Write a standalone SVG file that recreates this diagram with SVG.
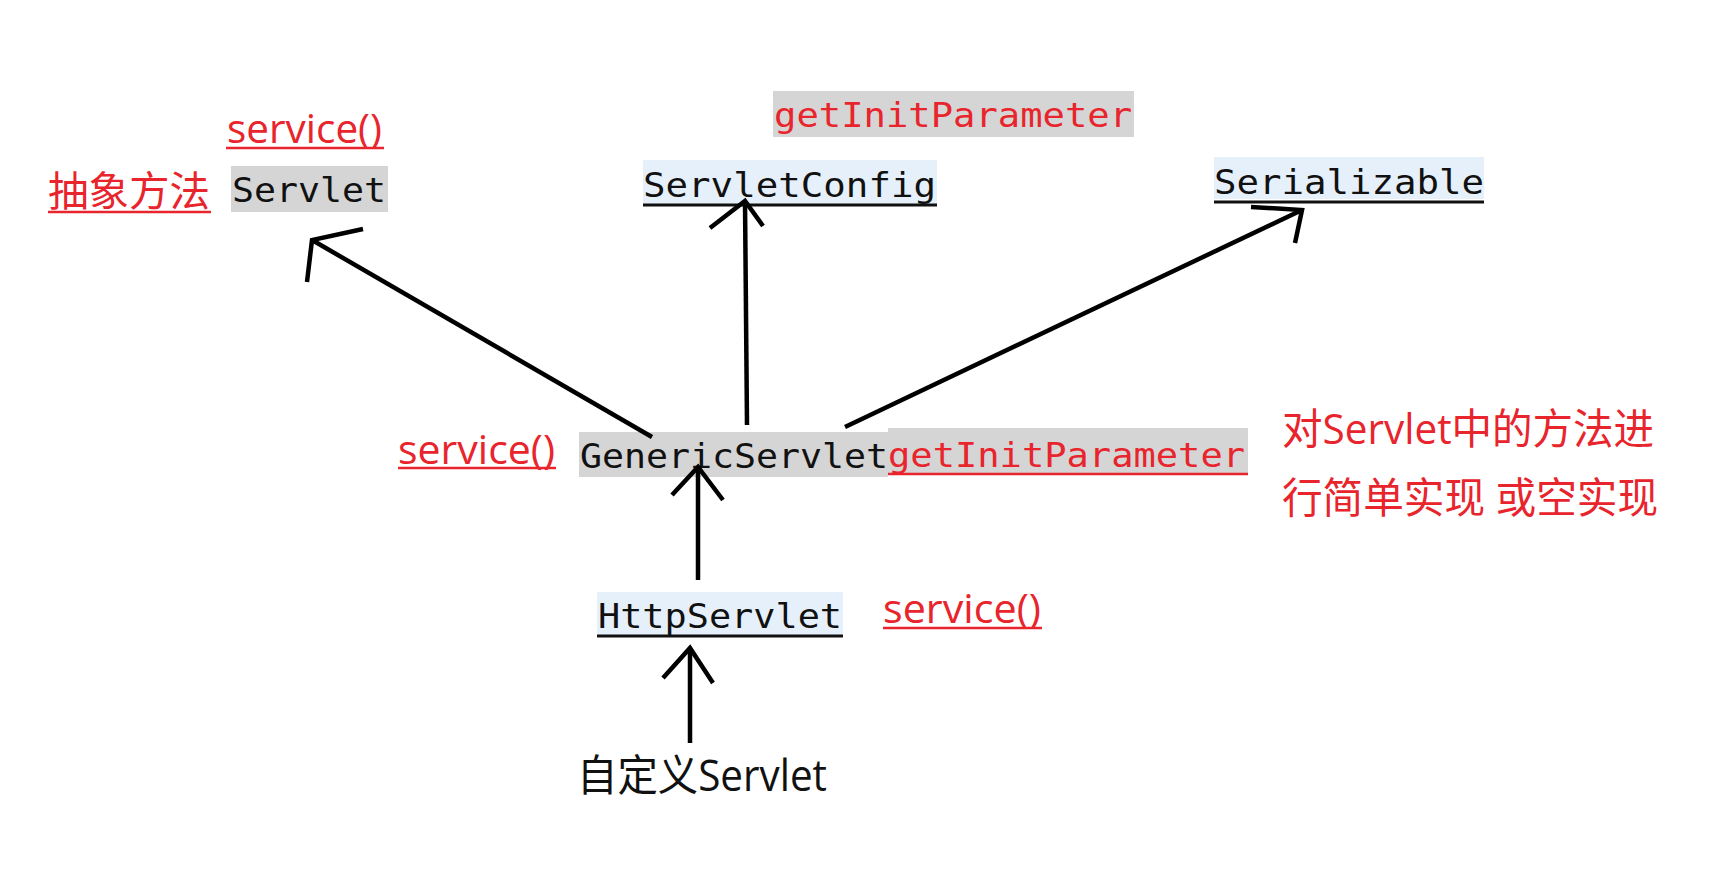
<svg xmlns="http://www.w3.org/2000/svg" width="1721" height="869" viewBox="0 0 1721 869">
<style>
.mono{font-family:"DejaVu Sans Mono","Liberation Mono",monospace;font-size:34px;fill:#111}
.sans{font-family:"Open Sans","Noto Sans CJK SC",sans-serif;font-size:40px}
.red{fill:#e8242c}
.blk{fill:#111}
.gray{fill:#d5d5d5}
.blue{fill:#e6f0fb}
.ulr{stroke:#e8242c;stroke-width:2.5}
.ulb{stroke:#111;stroke-width:3}
.conn{fill:none;stroke:#000;stroke-width:4.5;stroke-linejoin:miter}
</style>
<rect width="1721" height="869" fill="#fff"/>

<g id="servlet-service">
<text class="sans red" x="227" y="143" textLength="155" lengthAdjust="spacingAndGlyphs">service()</text>
<line class="ulr" x1="226" y1="148" x2="384" y2="148"/>
</g>
<g id="abstract-label">
<text class="sans red" x="48" y="206" textLength="162" lengthAdjust="spacingAndGlyphs" style="font-size:41px">抽象方法</text>
<line class="ulr" x1="48" y1="212" x2="211" y2="212"/>
</g>
<g id="servlet">
<rect class="gray" x="231" y="166" width="157" height="46"/>
<text class="mono" x="232" y="202" textLength="154" lengthAdjust="spacingAndGlyphs">Servlet</text>
</g>

<g id="config-getinit">
<rect class="gray" x="773" y="91" width="361" height="46"/>
<text class="mono red" x="774" y="127" textLength="358" lengthAdjust="spacingAndGlyphs">getInitParameter</text>
</g>
<g id="servletconfig">
<rect class="blue" x="643" y="160" width="294" height="45"/>
<text class="mono" x="643" y="197" textLength="293" lengthAdjust="spacingAndGlyphs">ServletConfig</text>
<line class="ulb" x1="643" y1="205" x2="937" y2="205"/>
</g>

<g id="serializable">
<rect class="blue" x="1214" y="157" width="270" height="42"/>
<text class="mono" x="1214" y="194" textLength="270" lengthAdjust="spacingAndGlyphs">Serializable</text>
<line class="ulb" x1="1214" y1="202" x2="1484" y2="202"/>
</g>

<g id="generic-service">
<text class="sans red" x="398" y="464" textLength="157" lengthAdjust="spacingAndGlyphs">service()</text>
<line class="ulr" x1="398" y1="468" x2="556" y2="468"/>
</g>
<g id="genericservlet">
<rect class="gray" x="579" y="432" width="309" height="45"/>
<text class="mono" x="580" y="468" textLength="308" lengthAdjust="spacingAndGlyphs">GenericServlet</text>
</g>
<g id="generic-getinit">
<rect class="gray" x="888" y="428" width="360" height="47"/>
<text class="mono red" x="888" y="467" textLength="357" lengthAdjust="spacingAndGlyphs">getInitParameter</text>
<line class="ulr" x1="888" y1="474" x2="1248" y2="474"/>
</g>
<g id="generic-note">
<text class="sans red" x="1282" y="444" textLength="372" lengthAdjust="spacingAndGlyphs" style="font-size:42px">对Servlet中的方法进</text>
<text class="sans red" x="1282" y="513" textLength="376" lengthAdjust="spacingAndGlyphs" style="font-size:42px">行简单实现 或空实现</text>
</g>

<g id="httpservlet">
<rect class="blue" x="597" y="592" width="246" height="44"/>
<text class="mono" x="598" y="628" textLength="244" lengthAdjust="spacingAndGlyphs">HttpServlet</text>
<line class="ulb" x1="597" y1="636" x2="843" y2="636"/>
</g>
<g id="http-service">
<text class="sans red" x="883" y="623" textLength="158" lengthAdjust="spacingAndGlyphs">service()</text>
<line class="ulr" x1="883" y1="628" x2="1042" y2="628"/>
</g>

<g id="custom-servlet">
<text class="sans blk" x="577" y="791" textLength="250" lengthAdjust="spacingAndGlyphs" style="font-size:43px">自定义Servlet</text>
</g>

<g id="connectors">
<line class="conn" x1="652" y1="437" x2="312" y2="240"/>
<polyline class="conn" points="363,229 312,240 307,282"/>
<line class="conn" x1="747" y1="425" x2="745" y2="201"/>
<polyline class="conn" points="710,228 745,201 763,226"/>
<line class="conn" x1="845" y1="427" x2="1302" y2="210"/>
<polyline class="conn" points="1251,207 1302,210 1295,243"/>
<line class="conn" x1="698" y1="580" x2="698" y2="467"/>
<polyline class="conn" points="672,495 698,467 723,500"/>
<line class="conn" x1="690" y1="743" x2="690" y2="648"/>
<polyline class="conn" points="663,678 690,648 713,683"/>
</g>
</svg>
